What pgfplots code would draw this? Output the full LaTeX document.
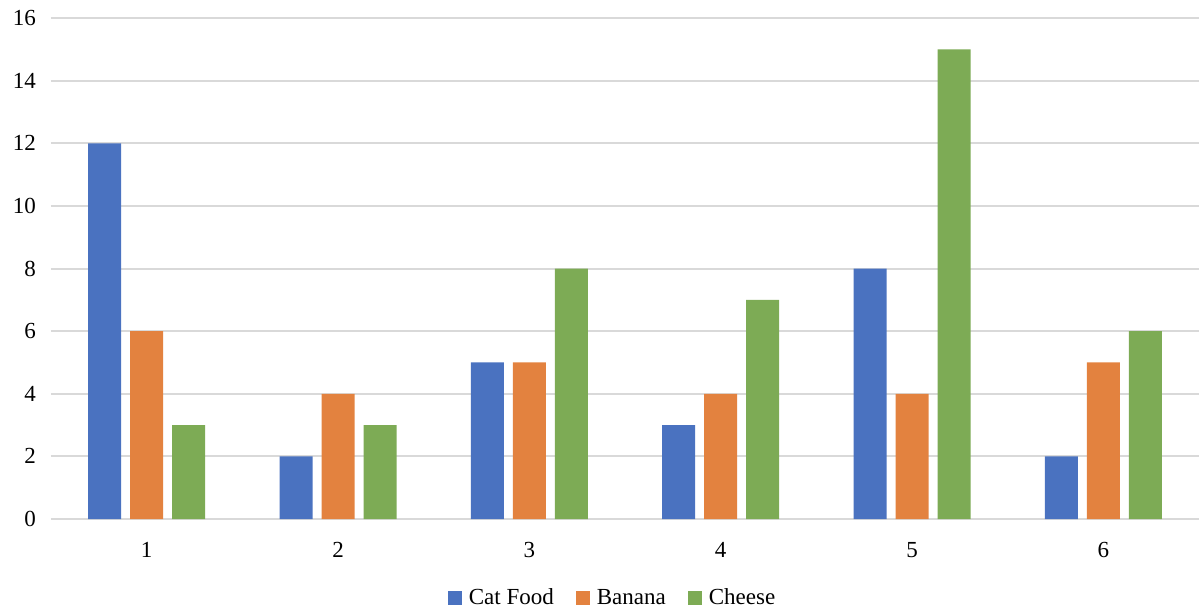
\documentclass[border=0pt]{standalone}
\usepackage{fontspec}
\setmainfont{Liberation Serif}
\usepackage{pgfplots}
\pgfplotsset{compat=1.18}
\definecolor{cfblue}{HTML}{4A72C0}
\definecolor{bnorange}{HTML}{E3823F}
\definecolor{chgreen}{HTML}{7DAB55}
\definecolor{gridgray}{HTML}{D9D9D9}
\begin{document}
\begin{tikzpicture}
\useasboundingbox (-25.5pt,-46.5pt) rectangle (574pt,259.5pt);
\begin{axis}[
  scale only axis,
  width=574pt, height=250.5pt,
  ybar=4.5pt, bar width=16.5pt,
  ymin=0, ymax=16, ytick={0,2,...,16},
  xmin=0.5, xmax=6.5, xtick={1,...,6},
  axis y line*=left,
  y axis line style={draw=none},
  axis x line*=bottom,
  x axis line style={draw=gridgray, line width=1pt, -},
  ymajorgrids, grid style={draw=gridgray, line width=1pt},
  major tick length=0pt,
  tick label style={font=\fontsize{11.5}{13}\selectfont},
  /pgf/number format/assume math mode=true,
  yticklabel style={xshift=-4pt},
  xticklabel style={yshift=-8pt},
  legend style={at={(0.49,-0.158)}, anchor=center, draw=none,
    legend columns=-1, font=\fontsize{11.5}{13}\selectfont,
    /tikz/every odd column/.append style={column sep=1.5pt},
    /tikz/every even column/.append style={column sep=9pt}},
  legend image code/.code={\fill[#1] (0pt,-3.5pt) rectangle (7pt,3.5pt);},
]
\addplot[fill=cfblue, draw=none] coordinates {(1,12) (2,2) (3,5) (4,3) (5,8) (6,2)};
\addplot[fill=bnorange, draw=none] coordinates {(1,6) (2,4) (3,5) (4,4) (5,4) (6,5)};
\addplot[fill=chgreen, draw=none] coordinates {(1,3) (2,3) (3,8) (4,7) (5,15) (6,6)};
\legend{Cat Food, Banana, Cheese}
\end{axis}
\end{tikzpicture}
\end{document}
